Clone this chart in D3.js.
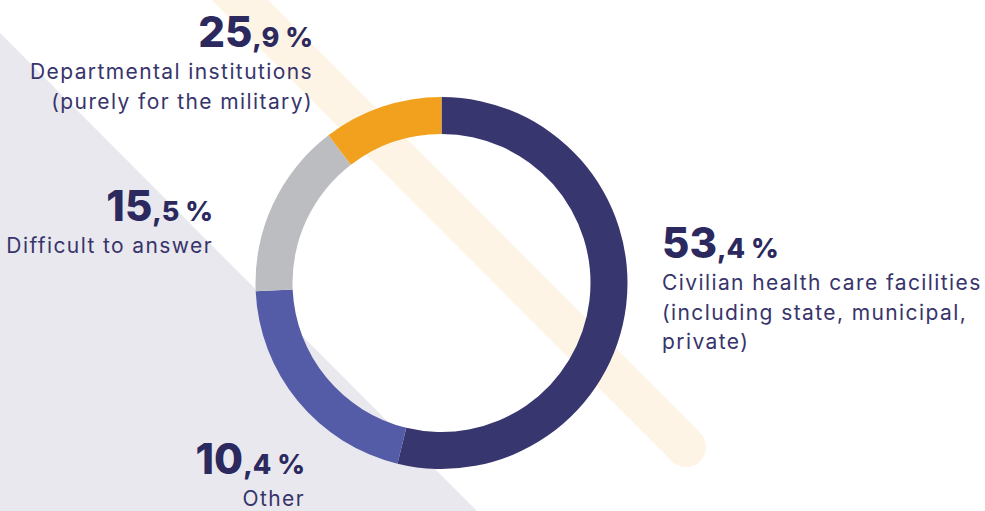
<!DOCTYPE html>
<html>
<head>
<meta charset="utf-8">
<script src="https://cdn.jsdelivr.net/npm/d3@7"></script>
<style>
  html, body { margin: 0; padding: 0; background: #fff; }
  svg { display: block; font-family: Inter, "Open Sans", sans-serif; }
</style>
</head>
<body>
<div id="donut"></div>
<script>
// slices, clockwise from 12 o'clock (share of the ring as drawn)
var sliceNames = ["Civilian", "Other", "Difficult", "Departmental"];
var sliceValues = [53.8, 20.5, 15.3, 10.4];
var sliceColors = ["#38366f", "#545ca8", "#bcbdc0", "#f2a11f"];

// callout texts
var calloutWhole = ["25", "15", "53", "10"];
var calloutFrac = [",9 %", ",5 %", ",4 %", ",4 %"];
var calloutLines = [
    ["Departmental institutions", "(purely for the military)"],
    ["Difficult to answer"],
    ["Civilian health care facilities", "(including state, municipal,", "private)"],
    ["Other"]
];

var width = 985;
var height = 511;
var cx = 441.5, cy = 283;
var outerR = 186, innerR = 149;

var svg = d3.select('#donut')
    .append('svg')
    .attr('width', width)
    .attr('height', height);

// grey corner triangle
svg.append('path')
    .attr('d', 'M0,33L477,511L0,511Z')
    .attr('fill', '#e9e8ee');

// pale diagonal stripe
svg.append('line')
    .attr('x1', 200).attr('y1', -40)
    .attr('x2', 686).attr('y2', 447)
    .attr('stroke', '#fdf4e6')
    .attr('stroke-width', 40)
    .attr('stroke-linecap', 'round');

var arc = d3.arc()
    .innerRadius(innerR)
    .outerRadius(outerR);

var pie = d3.pie()
    .value(function (d) { return d; })
    .sort(null);

svg.append('g')
    .attr('transform', 'translate(' + cx + ',' + cy + ')')
    .selectAll('path')
    .data(pie(sliceValues))
    .enter()
    .append('path')
    .attr('d', arc)
    .attr('fill', function (d, i) { return sliceColors[i]; });

// where each callout sits: x, baseline of the number, anchor
var calloutPos = [
    {x: 313, y: 47, anchor: 'end'},
    {x: 213, y: 221, anchor: 'end'},
    {x: 662, y: 258, anchor: 'start'},
    {x: 305, y: 474, anchor: 'end'}
];
var lineGap = 29.5;

var callout = svg.selectAll('.callout')
    .data(calloutWhole)
    .enter()
    .append('g')
    .attr('class', 'callout');

var num = callout.append('text')
    .attr('x', function (d, i) { return calloutPos[i].x; })
    .attr('y', function (d, i) { return calloutPos[i].y; })
    .attr('text-anchor', function (d, i) { return calloutPos[i].anchor; })
    .attr('fill', '#2b295e')
    .attr('font-weight', 800);

num.append('tspan')
    .attr('font-size', 42)
    .attr('letter-spacing', 0)
    .text(function (d) { return d; });

num.append('tspan')
    .attr('font-size', 27)
    .text(function (d, i) { return calloutFrac[i]; });

callout.each(function (d, i) {
    var g = d3.select(this);
    calloutLines[i].forEach(function (line, j) {
        g.append('text')
            .attr('x', calloutPos[i].x)
            .attr('y', calloutPos[i].y + 32 + j * lineGap)
            .attr('text-anchor', calloutPos[i].anchor)
            .attr('fill', '#37346b')
            .attr('font-size', 21)
            .attr('letter-spacing', 1.4)
            .text(line);
    });
});
</script>
</body>
</html>
